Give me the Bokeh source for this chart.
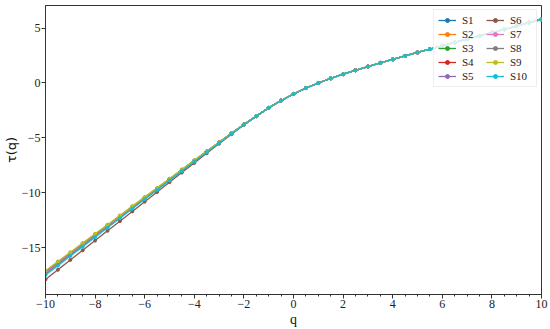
from bokeh.plotting import figure
from bokeh.embed import file_html
from bokeh.resources import INLINE
from bokeh.models import Range1d, CustomJSTickFormatter, Legend, LegendItem, FixedTicker

q = [-10, -9.5, -9, -8.5, -8, -7.5, -7, -6.5, -6, -5.5, -5, -4.5, -4, -3.5, -3, -2.5, -2,
     -1.5, -1, -0.5, 0, 0.5, 1, 1.5, 2, 2.5, 3, 3.5, 4, 4.5, 5, 5.5, 6, 6.5, 7, 7.5, 8, 8.5, 9, 9.5, 10]

# values for q >= -1.5 (all series nearly coincide there)
tau_common = [-3.02, -2.27, -1.60, -1.00, -0.46, 0.00, 0.42, 0.80, 1.16, 1.50, 1.83, 2.15, 2.47,
              2.78, 3.09, 3.39, 3.69, 3.99, 4.29, 4.59, 4.89, 5.19, 5.49, 5.79]

# values for q = -10 ... -2
s1_head = [-17.25, -16.40, -15.55, -14.70, -13.86, -13.01, -12.17, -11.31, -10.47, -9.62, -8.78, -7.93, -7.09, -6.25, -5.42, -4.59, -3.79]
s2_head = [-17.15, -16.31, -15.46, -14.62, -13.78, -12.94, -12.10, -11.25, -10.41, -9.58, -8.74, -7.90, -7.06, -6.23, -5.40, -4.58, -3.78]
s3_head = [-17.20, -16.36, -15.51, -14.66, -13.82, -12.98, -12.14, -11.28, -10.44, -9.60, -8.76, -7.91, -7.07, -6.24, -5.41, -4.58, -3.78]
s4_head = [-17.30, -16.45, -15.59, -14.75, -13.90, -13.05, -12.20, -11.34, -10.49, -9.65, -8.80, -7.95, -7.10, -6.26, -5.42, -4.60, -3.79]
s5_head = [-17.22, -16.37, -15.52, -14.68, -13.83, -12.99, -12.15, -11.30, -10.45, -9.61, -8.77, -7.92, -7.08, -6.25, -5.42, -4.59, -3.79]
s6_head = [-17.90, -17.02, -16.12, -15.24, -14.36, -13.47, -12.59, -11.70, -10.81, -9.93, -9.04, -8.16, -7.28, -6.40, -5.53, -4.67, -3.82]
s7_head = [-17.32, -16.47, -15.61, -14.76, -13.91, -13.06, -12.21, -11.35, -10.50, -9.66, -8.81, -7.96, -7.11, -6.27, -5.43, -4.60, -3.79]
s8_head = [-17.40, -16.55, -15.68, -14.83, -13.97, -13.12, -12.27, -11.40, -10.55, -9.69, -8.84, -7.98, -7.13, -6.29, -5.44, -4.61, -3.79]
s9_head = [-17.10, -16.26, -15.42, -14.58, -13.74, -12.91, -12.07, -11.22, -10.39, -9.55, -8.72, -7.88, -7.04, -6.22, -5.39, -4.57, -3.78]
s10_head = [-17.50, -16.64, -15.77, -14.91, -14.05, -13.19, -12.33, -11.46, -10.60, -9.74, -8.88, -8.02, -7.16, -6.31, -5.46, -4.62, -3.80]

names = ["S1", "S2", "S3", "S4", "S5", "S6", "S7", "S8", "S9", "S10"]
heads = [s1_head, s2_head, s3_head, s4_head, s5_head, s6_head, s7_head, s8_head, s9_head, s10_head]
colors = ["#1f77b4", "#ff7f0e", "#2ca02c", "#d62728", "#9467bd",
          "#8c564b", "#e377c2", "#7f7f7f", "#bcbd22", "#17becf"]

x_ticks = [-10, -8, -6, -4, -2, 0, 2, 4, 6, 8, 10]
y_ticks = [-15, -10, -5, 0, 5]

p = figure(width=550, height=329, output_backend="svg", toolbar_location=None,
           x_range=Range1d(-10, 10), y_range=Range1d(-19.27, 7.06),
           min_border_left=0, min_border_right=9, min_border_top=5, min_border_bottom=0)
p.background_fill_color = "white"
p.border_fill_color = "white"
p.grid.visible = False
p.outline_line_color = "#333333"
p.outline_line_width = 1

items = []
for name, head, col in zip(names, heads, colors):
    ys = head + tau_common
    r1 = p.line(q, ys, line_color=col, line_width=1.3)
    r2 = p.scatter(q, ys, size=3, fill_color=col, line_color=col)
    items.append(LegendItem(label=name, renderers=[r1, r2]))

legend = Legend(items=items, ncols=2, location="top_right")
legend.label_text_font = "Liberation Serif"
legend.label_text_font_size = "11px"
legend.label_text_color = "#222222"
legend.label_height = 10
legend.glyph_height = 10
legend.glyph_width = 18
legend.spacing = 2
legend.padding = 4
legend.margin = 4
legend.label_standoff = 6
legend.label_width = 22
legend.border_line_color = "#dddddd"
legend.background_fill_alpha = 0.8
p.add_layout(legend)

fmt = CustomJSTickFormatter(code="return String(tick).replace('-', '\u2212');")
for ax in (p.xaxis[0], p.yaxis[0]):
    ax.formatter = fmt
    ax.major_label_text_font = "Liberation Serif"
    ax.major_label_text_font_size = "12px"
    ax.major_label_text_color = "#222222"
    ax.axis_label_text_color = "#111111"
    ax.axis_line_color = "#333333"
    ax.major_tick_line_color = "#333333"
    ax.minor_tick_line_color = "#333333"
    ax.major_tick_out = 4
    ax.major_tick_in = 0
    ax.minor_tick_out = 2
    ax.minor_tick_in = 0
    ax.major_label_standoff = 1

p.xaxis.ticker = FixedTicker(ticks=x_ticks, minor_ticks=[v / 2 for v in range(-20, 21)])
p.yaxis.ticker = FixedTicker(ticks=y_ticks, minor_ticks=[])
p.xaxis.axis_label = "q"
p.xaxis.axis_label_text_font = "Liberation Serif"
p.xaxis.axis_label_text_font_style = "normal"
p.xaxis.axis_label_text_font_size = "14px"
p.xaxis.axis_label_standoff = 1
p.yaxis.axis_label = "τ(q)"
p.yaxis.axis_label_text_font = "DejaVu Sans"
p.yaxis.axis_label_text_font_style = "normal"
p.yaxis.axis_label_text_font_size = "13px"
p.yaxis.axis_label_standoff = 0

open("out.html", "w").write(file_html(p, INLINE))
